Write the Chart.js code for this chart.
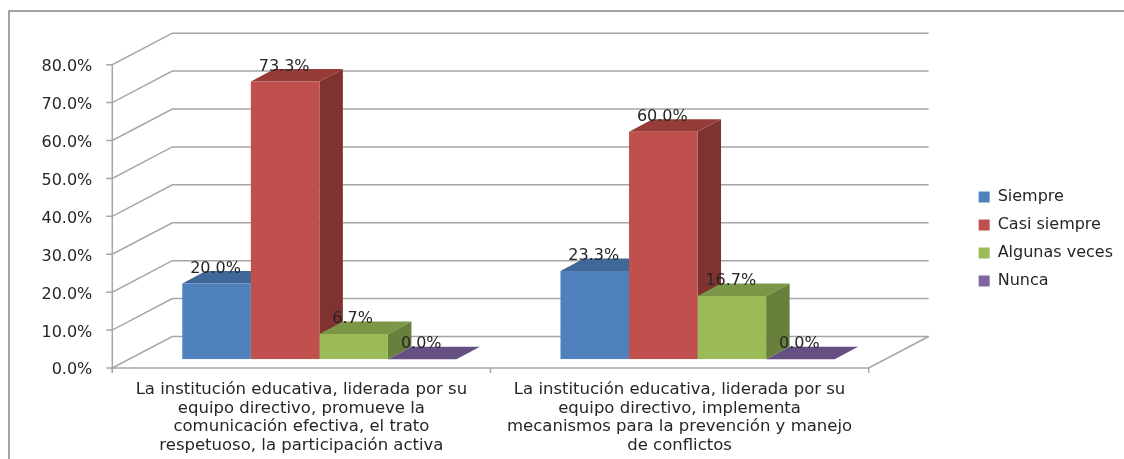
<!DOCTYPE html>
<html><head><meta charset="utf-8">
<style>html,body{margin:0;padding:0;background:#fff}canvas{display:block}</style>
<script src="https://cdn.jsdelivr.net/npm/chart.js@4"></script>
</head><body><canvas id="c" width="1124" height="459"></canvas>
<script>
const categories = [
  ["La institución educativa, liderada por su","equipo directivo, promueve la","comunicación efectiva, el trato","respetuoso, la participación activa"],
  ["La institución educativa, liderada por su","equipo directivo, implementa","mecanismos para la prevención y manejo","de conflictos"]
];
const siempre = [20.0, 23.3];
const casiSiempre = [73.3, 60.0];
const algunasVeces = [6.7, 16.7];
const nunca = [0.0, 0.0];
const FONT = '"DejaVu Sans"';
const TXT = '#262626';
const LINE = '#a6a6a6';
const styles = [
  {c:'#4F81BD', top:'#3F6797', side:'#325075'},
  {c:'#C0504D', top:'#953C39', side:'#7F3230'},
  {c:'#9BBB59', top:'#7C9647', side:'#68803C'},
  {c:'#8064A2', top:'#664F82', side:'#523F69'}
];
const DX = 23.5, DY = 12.5;          // bar depth
const WALL_DX = 60, WALL_DY = 31.5;  // wall depth
const FX = 18, FY = 8.7;             // bar plane to front plane

const threeD = {
  id:'threeD',
  beforeDraw(chart){
    const g = chart.ctx;
    g.save(); g.strokeStyle='#868686'; g.lineWidth=1.5;
    g.beginPath(); g.moveTo(9,459); g.lineTo(9,11); g.lineTo(1124,11); g.stroke(); g.restore();
  },
  beforeDatasetsDraw(chart){
    const g = chart.ctx, y = chart.scales.y, a = chart.chartArea;
    const fl = a.left - FX, fr = a.right - FX;
    g.save();
    g.strokeStyle = LINE; g.lineWidth = 1.5;
    y.ticks.forEach(t=>{
      const py = y.getPixelForValue(t.value) + FY;
      g.beginPath();
      g.moveTo(fl-6,py); g.lineTo(fl,py);
      g.lineTo(fl+WALL_DX,py-WALL_DY); g.lineTo(fr+WALL_DX,py-WALL_DY);
      g.stroke();
    });
    const py0 = y.getPixelForValue(0)+FY, pyT = y.getPixelForValue(80)+FY;
    g.beginPath(); g.moveTo(fl,pyT); g.lineTo(fl,py0+4); g.stroke();
    g.beginPath(); g.moveTo(fl,py0); g.lineTo(fr,py0); g.lineTo(fr+WALL_DX,py0-WALL_DY); g.stroke();
    [fl,(fl+fr)/2,fr].forEach(x=>{g.beginPath();g.moveTo(x,py0);g.lineTo(x,py0+5);g.stroke();});
    // side and top faces, left to right
    for(let i=0;i<categories.length;i++){
      chart.data.datasets.forEach((ds,d)=>{
        const b = chart.getDatasetMeta(d).data[i], s = styles[d];
        const l=b.x-b.width/2, r=b.x+b.width/2, t=b.y, bt=b.base;
        g.fillStyle=s.side;
        g.beginPath(); g.moveTo(r,t); g.lineTo(r+DX,t-DY); g.lineTo(r+DX,bt-DY); g.lineTo(r,bt); g.closePath(); g.fill();
        g.fillStyle=s.top;
        g.beginPath(); g.moveTo(l,t); g.lineTo(l+DX,t-DY); g.lineTo(r+DX,t-DY); g.lineTo(r,t); g.closePath(); g.fill();
      });
    }
    g.restore();
  },
  afterDatasetsDraw(chart){
    const g = chart.ctx;
    g.save(); g.font='16px '+FONT; g.fillStyle=TXT; g.textAlign='center'; g.textBaseline='middle';
    chart.data.datasets.forEach((ds,d)=>{
      chart.getDatasetMeta(d).data.forEach((b,i)=>{
        g.fillText(ds.data[i].toFixed(1)+'%', b.x-1, b.y-15);
      });
    });
    g.restore();
  }
};

const seriesNames = ['Siempre','Casi siempre','Algunas veces','Nunca'];
const seriesValues = [siempre,casiSiempre,algunasVeces,nunca];
new Chart(document.getElementById('c'),{
  type:'bar',
  data:{labels:categories,datasets:seriesNames.map((n,i)=>({
    label:n,data:seriesValues[i],backgroundColor:styles[i].c,borderWidth:0,
    barPercentage:1,categoryPercentage:0.725
  }))},
  options:{
    responsive:false,animation:false,
    layout:{padding:{top:19,bottom:0,left:0,right:1}},
    scales:{
      x:{grid:{display:false},border:{display:false},
        afterFit(s){s.height=99.7;},
        ticks:{autoSkip:false,maxRotation:0,minRotation:0,padding:13,labelOffset:-18,color:TXT,font:{family:FONT,size:16.5,lineHeight:1.13}}},
      y:{min:0,max:80,grid:{display:false},border:{display:false},
        afterFit(s){s.width=130.3;},
        ticks:{stepSize:10,padding:30,labelOffset:11,color:TXT,font:{family:FONT,size:16},callback:v=>v.toFixed(1)+'%'}},
      gap:{type:'linear',position:'right',display:true,grid:{display:false},border:{display:false},
        ticks:{display:false},afterFit(s){s.width=80;}},
      topGap:{type:'linear',position:'top',display:true,grid:{display:false},border:{display:false},
        ticks:{display:false},afterFit(s){s.height=37;}}
    },
    plugins:{
      tooltip:{enabled:false},
      legend:{position:'right',align:'center',labels:{boxWidth:11,boxHeight:11,padding:12,color:TXT,font:{family:FONT,size:16}}}
    }
  },
  plugins:[threeD]
});
</script></body></html>
